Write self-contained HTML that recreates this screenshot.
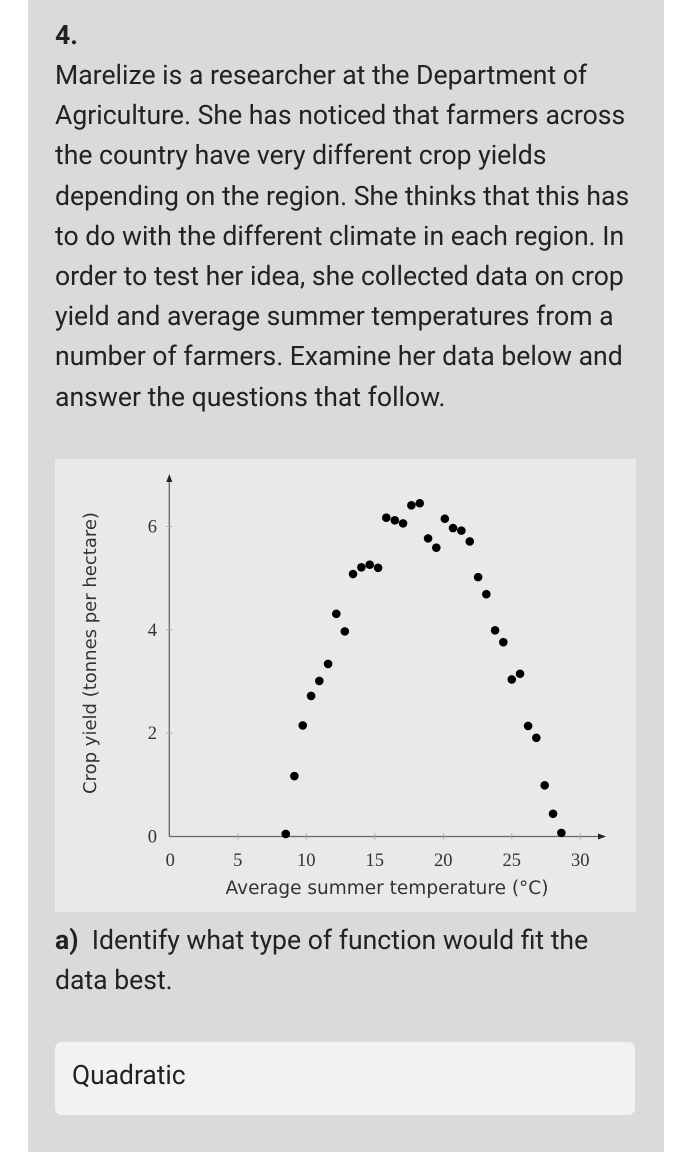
<!DOCTYPE html>
<html><head><meta charset="utf-8"><style>
html,body{margin:0;padding:0;background:#fff;width:694px;height:1152px;overflow:hidden;font-family:"Roboto","Liberation Sans",sans-serif}
#card{position:absolute;left:28px;top:0;width:636px;height:1152px;background:#dadada}
.t{position:absolute;left:55px;color:#222;font-size:26.6px;white-space:nowrap}
#chartbox{position:absolute;left:55px;top:459px;width:581px;height:453px;background:#e9e9e9}
#ans{position:absolute;left:55px;top:1042px;width:580px;height:73px;background:#f2f2f2;border-radius:7px}
</style></head><body>
<div id="card"></div>
<div class="t" style="top:20px;font-weight:bold">4.</div>
<div class="t" style="top:56px;line-height:40.2px">Marelize is a researcher at the Department of<br>Agriculture. She has noticed that farmers across<br>the country have very different crop yields<br>depending on the region. She thinks that this has<br>to do with the different climate in each region. In<br>order to test her idea, she collected data on crop<br>yield and average summer temperatures from a<br>number of farmers. Examine her data below and<br>answer the questions that follow.</div>
<div id="chartbox"></div>
<svg id="chart" width="694" height="1152" style="position:absolute;left:0;top:0"></svg>
<div class="t" style="top:921px;line-height:40px"><b>a)</b>&nbsp; Identify what type of function would fit the<br>data best.</div>
<div id="ans"><span style="position:absolute;left:17px;top:19px;font-size:26.4px;color:#222">Quadratic</span></div>
<script>
const temps=[8.5,9.13,9.74,10.35,10.95,11.59,12.19,12.81,13.41,14.02,14.63,15.24,15.84,16.46,17.06,17.67,18.28,18.89,19.49,20.11,20.71,21.32,21.93,22.54,23.14,23.78,24.38,25.0,25.6,26.19,26.79,27.4,28.01,28.62];
const yields=[0.05,1.17,2.15,2.72,3.01,3.34,4.31,3.97,5.08,5.21,5.26,5.2,6.17,6.12,6.06,6.41,6.45,5.77,5.59,6.15,5.97,5.92,5.71,5.02,4.69,3.99,3.76,3.04,3.15,2.14,1.91,0.99,0.44,0.07];
const xTicks=[0,5,10,15,20,25,30];
const yTicks=[0,2,4,6];
const NS='http://www.w3.org/2000/svg';
const svg=document.getElementById('chart');
const X0=169.3,Y0=836.5,SX=13.7,SY=51.67;
const xs=v=>X0+v*SX, ys=v=>Y0-v*SY;
function el(t,a){const e=document.createElementNS(NS,t);for(const k in a)e.setAttribute(k,a[k]);svg.appendChild(e);return e;}
let ax=el('line',{x1:X0,y1:Y0,x2:601,y2:Y0,stroke:'#666','stroke-width':1.3});


let ay=el('line',{x1:X0,y1:Y0,x2:X0,y2:479,stroke:'#666','stroke-width':1.3});


el('path',{d:'M606,836.5 L598,833.5 L598,839.5Z',fill:'#222'});
el('path',{d:'M169.3,474 L166.3,482 L172.3,482Z',fill:'#222'});
xTicks.forEach(v=>{
 if(v>0)el('line',{x1:xs(v),y1:Y0-3,x2:xs(v),y2:Y0+3,stroke:'#aaa'});
 const t=el('text',{x:xs(v)+(v===0?1:0),y:866,'text-anchor':'middle','font-size':18.5,'font-family':'"Liberation Serif",serif',fill:'#333'});
 t.textContent=v;
 
 
});
yTicks.forEach(v=>{
 if(v>0)el('line',{x1:X0-3,y1:ys(v),x2:X0+3,y2:ys(v),stroke:'#aaa'});
 const t=el('text',{x:157,y:ys(v)+6,'text-anchor':'end','font-size':18.5,'font-family':'"Liberation Serif",serif',fill:'#333'});
 t.textContent=v;
 
 
});
const xl=el('text',{x:387,y:894,'text-anchor':'middle','font-size':18.5,'font-family':'"DejaVu Sans","Liberation Sans",sans-serif',fill:'#333'});
xl.textContent='Average summer temperature (°C)';


const yl=el('text',{x:0,y:0,'text-anchor':'middle','font-size':18,'font-family':'"DejaVu Sans","Liberation Sans",sans-serif',fill:'#333',transform:'translate(96,653) rotate(-90)'});
yl.textContent='Crop yield (tonnes per hectare)';


temps.forEach((v,i)=>{
 const c=el('circle',{cx:xs(v),cy:ys(yields[i]),r:4.3,fill:'#000'});
 
 
});
</script>
</body></html>
